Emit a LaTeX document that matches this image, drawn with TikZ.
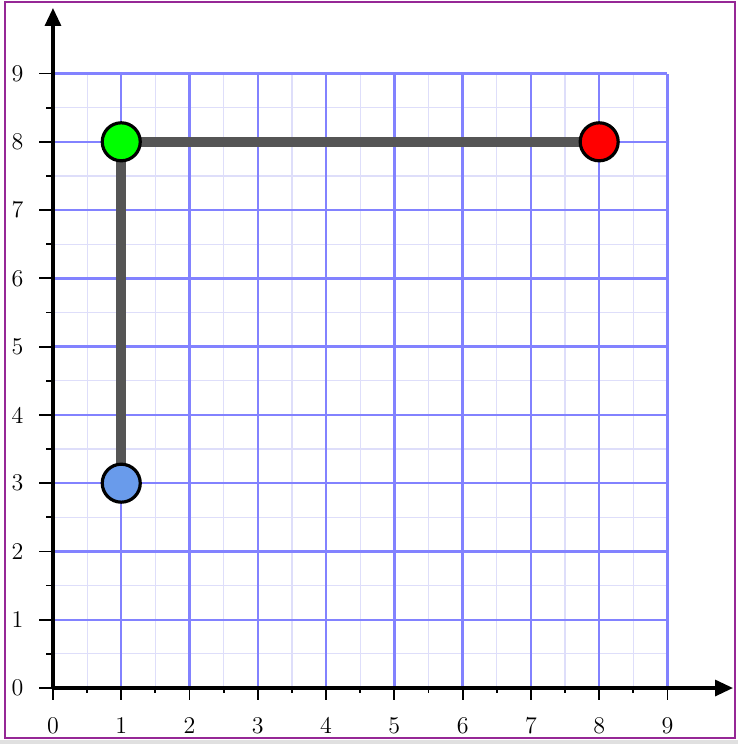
\documentclass[tikz,border=0pt]{standalone}
\usetikzlibrary{arrows.meta}
\definecolor{framepurple}{RGB}{150,40,150}
\definecolor{pathgray}{RGB}{85,85,85}
\definecolor{ptblue}{RGB}{105,155,235}
\definecolor{majorblue}{RGB}{130,130,255}
\definecolor{minorblue}{RGB}{222,222,250}
\tikzset{
  majorgrid/.style={draw=majorblue, line width=1.2pt},
  minorgrid/.style={draw=minorblue, line width=0.6pt},
  axisline/.style={line width=1.6pt, -{Triangle[length=9pt,width=8pt]}},
  tickmark/.style={line width=0.9pt},
  routeline/.style={draw=pathgray, line width=5pt},
  ptcircle/.style={circle, draw=black, line width=1.6pt, minimum size=19pt, inner sep=0pt},
  ticklabel/.style={font=\large, inner sep=0pt}
}
\begin{document}
\begin{tikzpicture}[x=1.2cm,y=1.2cm]
\useasboundingbox (-0.776,-0.820) rectangle (10.033,10.077);
% gray strip at bottom and frame
\fill[black!12] (-0.776,-0.820) rectangle (10.033,-0.761);
\draw[framepurple, line width=0.6pt] (-0.703,-0.732) rectangle (9.989,10.047);
% grid
\foreach \i in {0.5,1.5,...,8.5} {
  \draw[minorgrid] (\i,0) -- (\i,9);
  \draw[minorgrid] (0,\i) -- (9,\i);
}
\foreach \i in {1,...,9} {
  \draw[majorgrid] (\i,0) -- (\i,9);
  \draw[majorgrid] (0,\i) -- (9,\i);
}
% ticks
\foreach \i in {0,...,9} {
  \draw[tickmark] (\i,0) -- (\i,-0.18);
  \draw[tickmark] (0,\i) -- (-0.2,\i);
  \node[ticklabel] at (\i,-0.55) {\i};
  \node[ticklabel] at (-0.52,\i) {\i};
}
\foreach \i in {0.5,1.5,...,8.5} {
  \draw[tickmark] (\i,0) -- (\i,-0.08);
  \draw[tickmark] (0,\i) -- (-0.1,\i);
}
% axes
\coordinate (xstart) at (-0.02,0);
\coordinate (ystart) at (0,-0.02);
\coordinate (xend) at (9.96,0);
\coordinate (yend) at (0,9.96);
\draw[axisline] (xstart) -- (xend);
\draw[axisline] (ystart) -- (yend);
% points
\coordinate (A) at (1,3);
\coordinate (B) at (1,8);
\coordinate (C) at (8,8);
\draw[routeline] (A) -- (B) -- (C);
\node[ptcircle, fill=ptblue] (Pa) at (A) {};
\node[ptcircle, fill=green] (Pb) at (B) {};
\node[ptcircle, fill=red] (Pc) at (C) {};
\end{tikzpicture}
\end{document}
